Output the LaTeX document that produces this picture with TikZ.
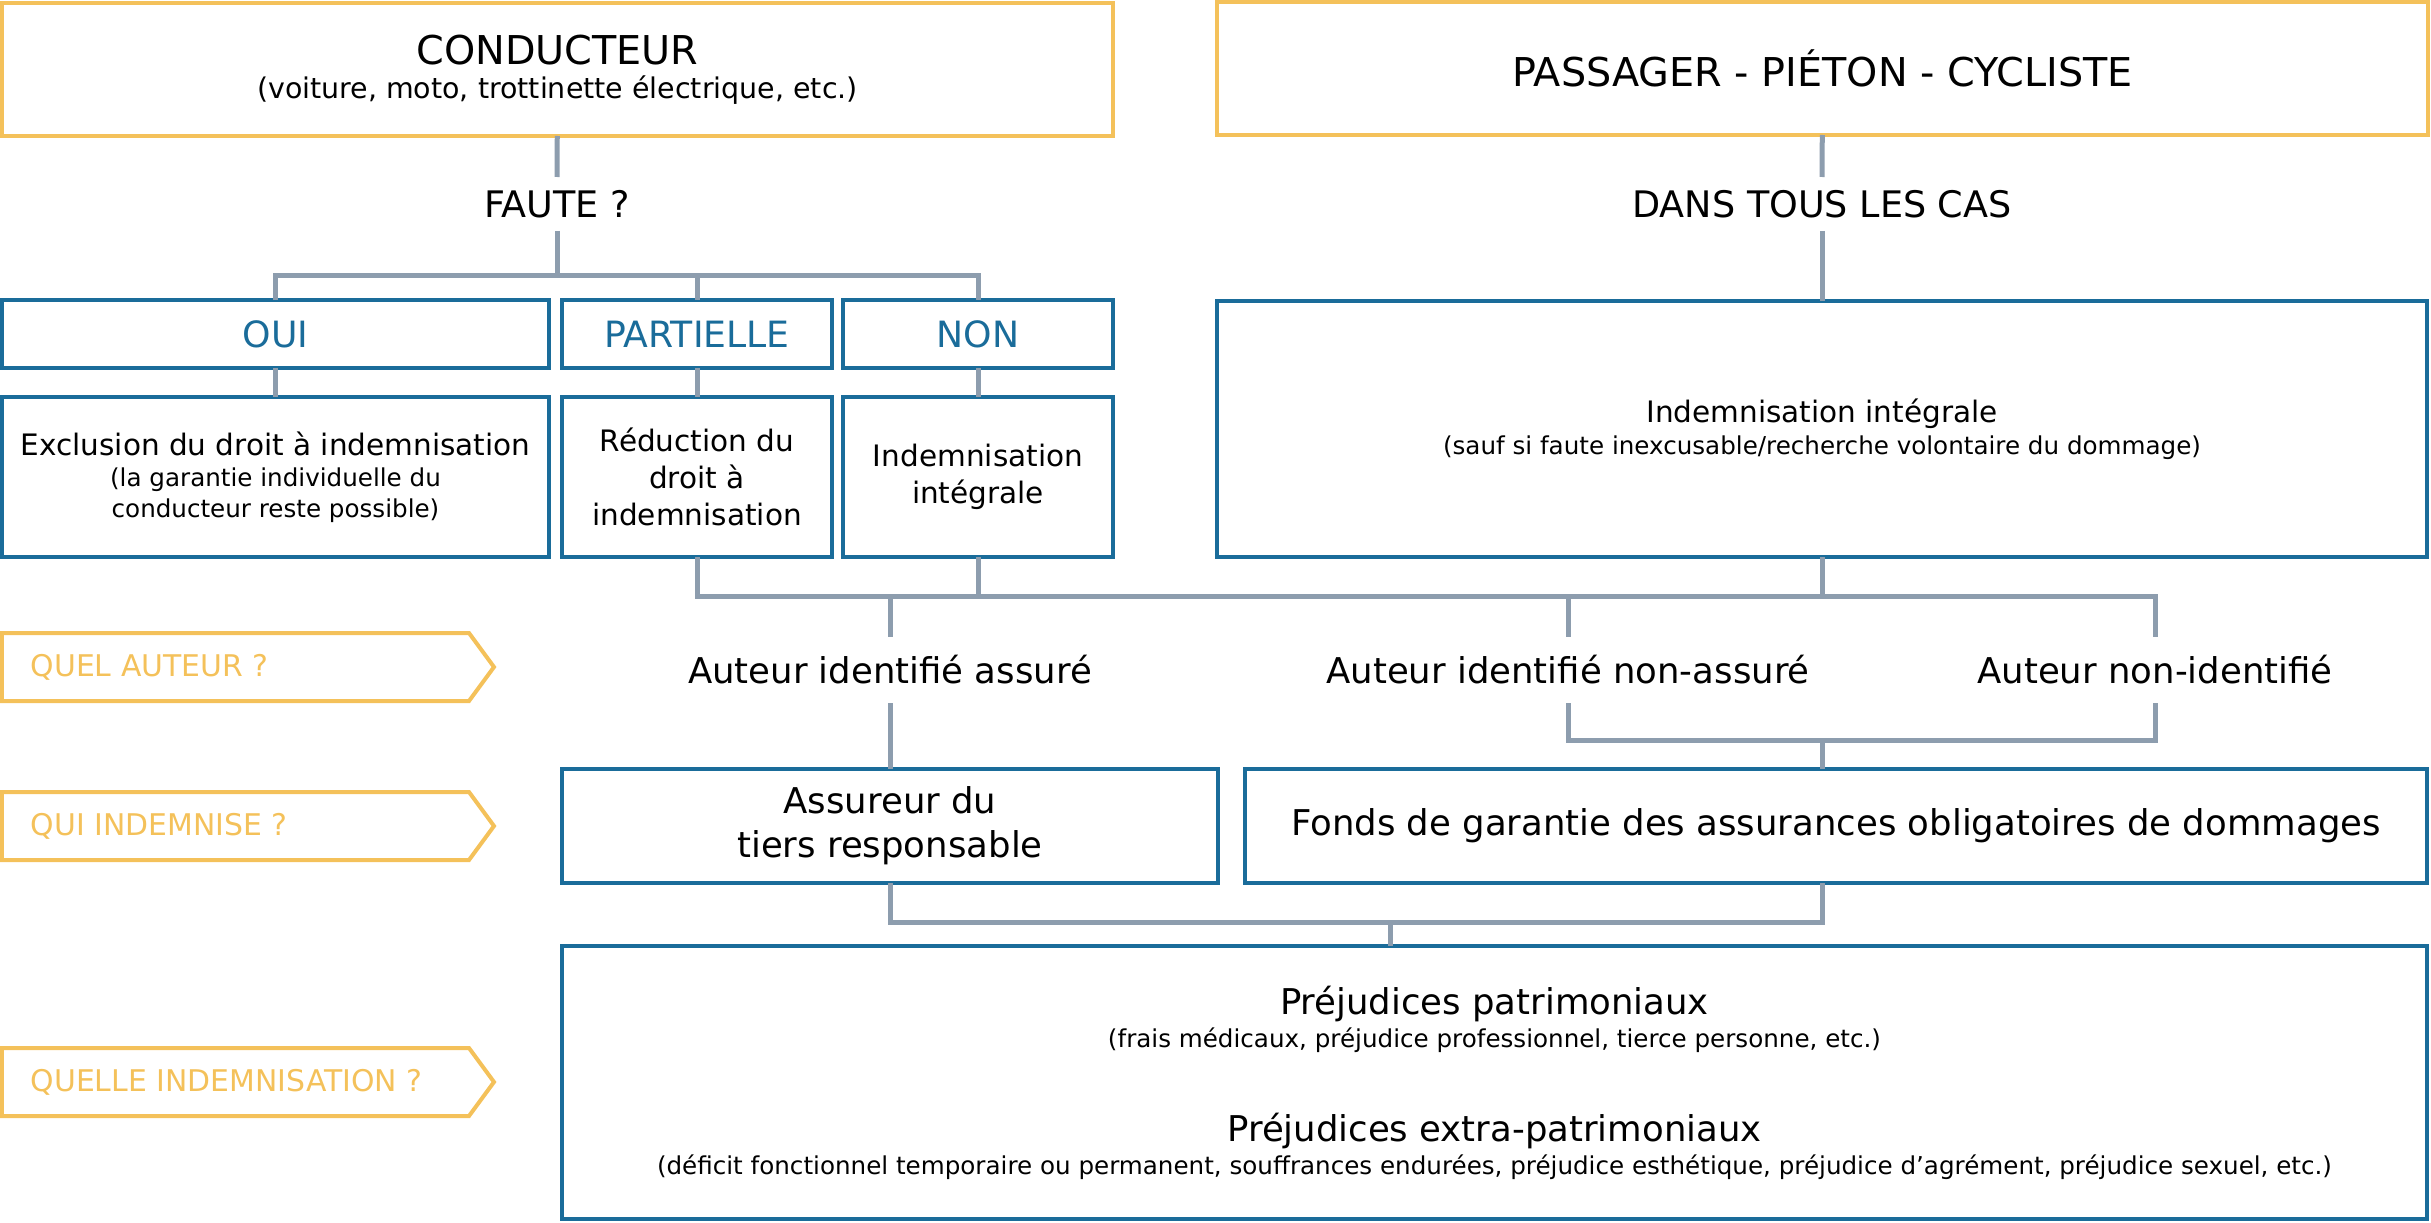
\documentclass[tikz,border=0pt]{standalone}
\usepackage{fontspec}
\setmainfont{DejaVu Sans}
\usetikzlibrary{positioning}

\definecolor{jaune}{HTML}{F4C15A}
\definecolor{bleu}{HTML}{1A6C9A}
\definecolor{gris}{HTML}{8D9DAE}
\newcommand{\sous}{\fontsize{7}{8.8}\selectfont}

\begin{document}
\begin{tikzpicture}[x=0.1mm,y=-0.1mm,
  titre/.style={draw=jaune,line width=0.4mm,minimum height=13.3mm,inner sep=0pt,outer sep=0pt,align=center},
  choix/.style={draw=bleu,line width=0.35mm,text=bleu,minimum height=6.8mm,inner sep=0pt,outer sep=0pt,font=\fontsize{10.3}{12}\selectfont},
  cas/.style={draw=bleu,line width=0.35mm,inner sep=0pt,outer sep=0pt,align=center,font=\fontsize{8.4}{10.5}\selectfont},
  etiq/.style={inner sep=0pt,outer sep=0pt,align=center,font=\fontsize{10.1}{12.5}\selectfont},
  conn/.style={draw=gris,line width=0.5mm},
  tag/.style={draw=jaune,line width=0.4mm},
  tagtxt/.style={text=jaune,inner sep=0pt,anchor=west,font=\fontsize{8.5}{10}\selectfont}]

\useasboundingbox (0,0) rectangle (2431,1223);

% en-tetes
\node[titre,minimum width=111.1mm,font=\fontsize{11.3}{9.7}\selectfont] (cond) at (557.5,69.5)
  {CONDUCTEUR\\ \fontsize{8.1}{9.7}\selectfont (voiture, moto, trottinette électrique, etc.)};
\node[titre,minimum width=121.1mm,font=\fontsize{11.3}{13}\selectfont] (pass) at (1822.5,68.5)
  {PASSAGER - PIÉTON - CYCLISTE};

\node[etiq,minimum height=5.4mm,font=\fontsize{10.4}{12}\selectfont] (faute) at (557,204) {FAUTE ?};
\node[etiq,minimum height=5.4mm,font=\fontsize{10.4}{12}\selectfont] (tousl) at (1822,204) {DANS TOUS LES CAS};

% faute ?
\node[choix,minimum width=54.7mm] (oui) at (275.5,334) {OUI};
\node[choix,minimum width=27mm]   (part)[right=1.3mm of oui] {PARTIELLE};
\node[choix,minimum width=27mm]   (non)[right=1.1mm of part] {NON};

\node[cas,minimum width=54.7mm,minimum height=16mm,font=\fontsize{8.4}{8.8}\selectfont] (excl)[below=2.9mm of oui]
  {Exclusion du droit à indemnisation\\ \sous (la garantie individuelle du\\ \sous conducteur reste possible)};
\node[cas,minimum width=27mm,minimum height=16mm] (red)[below=2.9mm of part]
  {Réduction du\\droit à\\indemnisation};
\node[cas,minimum width=27mm,minimum height=16mm] (integ)[below=2.9mm of non]
  {Indemnisation\\intégrale};
\node[cas,minimum width=121mm,minimum height=25.6mm,font=\fontsize{8.4}{9.1}\selectfont] (tous) at (1822,429)
  {Indemnisation intégrale\\ \sous (sauf si faute inexcusable/recherche volontaire du dommage)};

% auteurs
\node[etiq,minimum height=6.6mm] (aut1) at (890,670)  {Auteur identifié assuré};
\node[etiq,minimum height=6.6mm] (aut2) at (1568,670) {Auteur identifié non-assuré};
\node[etiq,minimum height=6.6mm] (aut3) at (2155,670) {Auteur non-identifié};

\node[cas,minimum width=65.6mm,minimum height=11.4mm,font=\fontsize{10.1}{12.5}\selectfont] (assur) at (890,826)
  {Assureur du\\tiers responsable};
\node[cas,minimum width=118.2mm,minimum height=11.4mm,font=\fontsize{10.1}{12.5}\selectfont] (fonds) at (1836,826)
  {Fonds de garantie des assurances obligatoires de dommages};

\node[cas,minimum width=186.5mm,minimum height=27.3mm,font=\fontsize{10.1}{9.4}\selectfont] (prej) at (1494.5,1082.5)
  {Préjudices patrimoniaux\\
   \sous (frais médicaux, préjudice professionnel, tierce personne, etc.)\\[16.2pt]
   Préjudices extra-patrimoniaux\\
   \sous (déficit fonctionnel temporaire ou permanent, souffrances endurées, préjudice esthétique, préjudice d’agrément, préjudice sexuel, etc.)};

% questions a gauche
\foreach \ty/\tname/\ttext in {667/qa/QUEL AUTEUR ?, 826/qi/QUI INDEMNISE ?, 1082/qq/QUELLE INDEMNISATION ?}{
  \draw[tag] (2,\ty-34) -- (469,\ty-34) -- (494,\ty) -- (469,\ty+34) -- (2,\ty+34) -- cycle;
  \node[tagtxt] (\tname) at (30,\ty) {\ttext};
}

% liaisons
\coordinate (j1)  at (557,276);
\coordinate (bus) at (1822,596);
\coordinate (fb)  at (1822,740);
\coordinate (pb)  at (1390,922);

\draw[conn] (oui.north) |- (j1) -| (non.north);
\draw[conn] (red.south) |- (bus) -| (aut3.north);
\draw[conn] (aut2.south) |- (fb) -| (aut3.south);
\draw[conn] (assur.south) |- (pb) -| (fb |- fonds.south);

\path[conn] (cond)  edge (faute)
            (faute) edge (j1)
            (part.north) edge (part.north |- j1)
            (oui)   edge (excl)
            (part)  edge (red)
            (non)   edge (integ)
            (pass)  edge (tousl)
            (tousl) edge (tous)
            (integ.south) edge (integ.south |- bus)
            (tous)  edge (bus)
            (aut1 |- bus) edge (aut1)
            (aut2 |- bus) edge (aut2)
            (aut1)  edge (assur)
            (fb)    edge (fb |- fonds.north)
            (pb)    edge (pb |- prej.north);
\end{tikzpicture}
\end{document}
